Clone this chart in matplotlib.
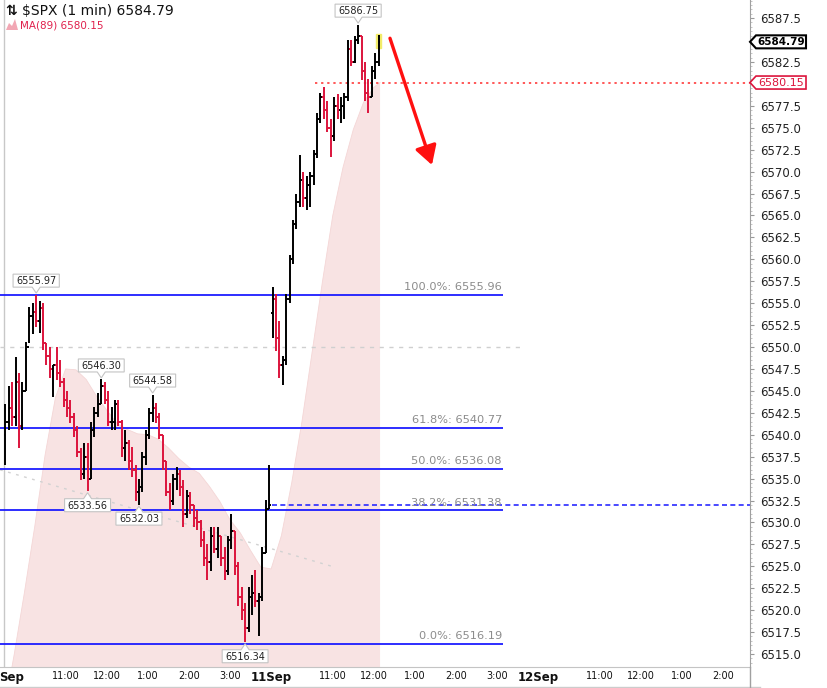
import numpy as np
import matplotlib
matplotlib.use("Agg")
import matplotlib.pyplot as plt
from matplotlib.collections import LineCollection
from matplotlib.patches import Polygon, Rectangle
from matplotlib.transforms import IdentityTransform
from matplotlib.lines import Line2D
from matplotlib.ticker import FormatStrFormatter, MultipleLocator

# ---------------- data ----------------
session_labels = ["10Sep", "11Sep", "12Sep"]
time_labels = ["11:00", "12:00", "1:00", "2:00", "3:00"]
time_offsets = [90, 150, 210, 270, 330]      # minutes after 9:30
session_length = 390
bar_minutes = 5

# 10 Sep, 5-minute bars
day1_high = [6543.5, 6545.5, 6546.0, 6548.9, 6547.0, 6546.0, 6550.6, 6554.6, 6555.0, 6555.97,
             6555.3, 6555.0, 6550.5, 6550.0, 6548.0, 6550.0, 6548.5, 6546.5, 6545.0, 6544.0,
             6542.5, 6541.0, 6538.5, 6539.0, 6539.0, 6541.5, 6543.2, 6544.8, 6546.3, 6546.0,
             6545.0, 6543.2, 6544.0, 6544.0, 6541.7, 6540.5, 6539.4, 6538.6, 6536.5, 6535.0,
             6538.0, 6540.5, 6543.0, 6544.58, 6543.6, 6542.5, 6540.0, 6537.0, 6534.5, 6535.5,
             6536.3, 6536.0, 6534.8, 6533.7, 6533.5, 6532.0, 6531.4, 6530.3, 6529.0, 6527.5,
             6529.5, 6529.5, 6529.5, 6528.5, 6527.2, 6528.5, 6531.0, 6529.0, 6525.5, 6522.6,
             6520.8, 6522.6, 6524.0, 6524.6, 6522.0, 6527.2, 6532.6, 6536.5]
day1_low = [6536.5, 6540.5, 6541.0, 6541.0, 6538.5, 6540.5, 6545.0, 6550.5, 6551.5, 6552.3,
            6551.6, 6549.7, 6548.0, 6546.5, 6544.3, 6546.2, 6545.4, 6543.2, 6542.0, 6541.3,
            6539.7, 6537.5, 6534.8, 6535.0, 6533.56, 6535.0, 6539.7, 6542.0, 6543.5, 6543.5,
            6541.0, 6540.5, 6540.5, 6541.0, 6537.5, 6537.0, 6536.0, 6535.2, 6532.5, 6532.03,
            6533.5, 6536.5, 6539.5, 6541.5, 6541.3, 6539.5, 6536.0, 6533.0, 6531.4, 6532.0,
            6533.7, 6533.0, 6529.5, 6530.5, 6531.0, 6529.5, 6529.1, 6527.2, 6525.0, 6523.4,
            6524.5, 6526.5, 6526.0, 6525.0, 6523.4, 6524.0, 6527.0, 6524.0, 6520.5, 6518.9,
            6516.34, 6517.5, 6519.5, 6520.4, 6517.0, 6521.0, 6526.5, 6531.5]
day1_close = [6541.5, 6543.0, 6542.0, 6546.0, 6541.0, 6545.0, 6550.0, 6553.5, 6554.0, 6553.0,
              6554.5, 6550.5, 6549.0, 6547.5, 6548.0, 6547.0, 6546.0, 6544.0, 6543.0, 6542.0,
              6540.5, 6538.0, 6535.5, 6537.5, 6535.0, 6540.5, 6542.5, 6543.5, 6545.5, 6544.0,
              6541.5, 6541.5, 6543.5, 6541.5, 6538.5, 6539.0, 6537.0, 6536.0, 6533.5, 6534.0,
              6537.5, 6540.0, 6542.5, 6543.0, 6542.0, 6540.0, 6537.0, 6533.5, 6532.5, 6535.0,
              6535.5, 6534.0, 6531.0, 6533.0, 6532.0, 6530.5, 6530.0, 6528.0, 6526.0, 6525.5,
              6528.5, 6527.0, 6528.5, 6526.0, 6524.5, 6528.0, 6529.0, 6525.0, 6521.5, 6520.0,
              6518.0, 6521.5, 6522.0, 6521.0, 6521.5, 6526.5, 6531.5, 6532.04]

# 11 Sep
day2_high = [6556.8, 6556.0, 6553.0, 6549.0, 6556.0, 6560.5, 6564.5, 6567.5, 6571.9, 6570.0,
             6569.5, 6570.0, 6572.5, 6576.7, 6579.0, 6579.6, 6578.0, 6576.0, 6578.5, 6578.9,
             6578.5, 6579.0, 6585.0, 6585.0, 6585.5, 6586.75, 6585.5, 6582.5, 6580.5, 6582.0,
             6583.5, 6585.6]
day2_low = [6551.0, 6549.5, 6546.5, 6545.7, 6548.0, 6555.0, 6559.5, 6563.5, 6566.0, 6566.0,
            6565.6, 6566.0, 6568.5, 6571.5, 6575.5, 6576.0, 6574.5, 6571.7, 6573.5, 6576.0,
            6575.5, 6576.0, 6578.0, 6582.0, 6582.4, 6584.5, 6580.4, 6578.0, 6576.7, 6578.5,
            6580.5, 6582.0]
day2_close = [6555.5, 6551.0, 6548.0, 6548.5, 6555.5, 6560.0, 6564.0, 6566.5, 6569.0, 6567.0,
              6568.5, 6569.5, 6572.0, 6576.0, 6578.5, 6577.0, 6575.0, 6574.0, 6577.5, 6577.0,
              6577.5, 6578.5, 6584.0, 6582.5, 6585.0, 6585.5, 6581.5, 6579.0, 6578.5, 6581.5,
              6582.5, 6584.79]

# MA(89) read every 15 minutes (minutes since 10 Sep 9:30)
ma_minute = [0, 15, 30, 45, 60, 75, 90, 105, 120, 135, 150, 165, 180, 195, 210, 225, 240,
             255, 270, 285, 300, 315, 330, 345, 360, 375, 390, 405, 420, 435, 450, 465, 480,
             495, 510, 525, 540, 549]
ma_value = [6508.5, 6515.0, 6522.1, 6529.6, 6537.7, 6544.2, 6547.5, 6547.4, 6546.3, 6544.4,
            6542.8, 6541.3, 6540.6, 6540.1, 6540.0, 6539.5, 6538.5, 6537.3, 6536.3, 6535.6,
            6534.1, 6532.4, 6530.3, 6528.8, 6526.8, 6524.9, 6524.7, 6528.5, 6534.5, 6541.5,
            6549.5, 6557.5, 6565.0, 6570.5, 6574.8, 6577.9, 6579.6, 6580.15]

fib_pct = ["100.0%", "61.8%", "50.0%", "38.2%", "0.0%"]
fib_level = [6555.96, 6540.77, 6536.08, 6531.38, 6516.19]

# labelled swing points: (session, bar index, 'H' or 'L')
swing_points = [(0, 9, "H"), (0, 28, "H"), (0, 43, "H"), (0, 24, "L"), (0, 39, "L"),
                (0, 70, "L"), (1, 25, "H")]

round_level = 6550.0
trend_x = [-5.8, 483.0]
trend_y = [6536.0, 6524.9]
arrow_from = (563.5, 6585.2)
arrow_to = (624.8, 6570.75)

# ---------------- figure ----------------
W, H = 827, 688
fig = plt.figure(figsize=(W / 100, H / 100), dpi=100)
fig.patch.set_facecolor("white")
ax = fig.add_axes([0, 21 / H, 750 / W, 667 / H])
XMIN, XMAX = -5.84, 1089.1
YMIN, YMAX = 6513.52, 6589.56
ax.set_xlim(XMIN, XMAX)
ax.set_ylim(YMIN, YMAX)
ax.set_facecolor("white")

UP = "#000000"
DOWN = "#dc143c"

# MA area
ax.fill_between(ma_minute, ma_value, YMIN - 20, color="#f8e3e3", lw=0, zorder=1)
ax.plot(ma_minute, ma_value, color="#f4d6d6", lw=0.6, zorder=1.1)

# session start divider
ax.axvline(0, color="#c8c8c8", lw=1, zorder=1.2)

# gray helper lines
ax.hlines(round_level, XMIN, 760.6, colors="#cfcfcf", linestyles=(0, (3, 4)), lw=1, zorder=1.3)
ax.plot(trend_x, trend_y, color="#d2d2d2", ls=(0, (2, 4)), lw=1, zorder=1.3)

# fibonacci levels
fib_end = 728.5
ax.hlines(fib_level, XMIN, fib_end, colors="#1c1cff", lw=1.3, zorder=2)
for pct, lvl in zip(fib_pct, fib_level):
    ax.text(fib_end - 1.5, lvl + 0.3, f"{pct}: {lvl:.2f}", ha="right", va="bottom",
            fontsize=8.2, color="#8c8c8c", zorder=2.1)

# previous close (dashed blue)
prev_close = day1_close[-1]
ax.hlines(prev_close, session_length + 1, XMAX, colors="#2a2aff",
          linestyles=(0, (3, 2)), lw=1.2, zorder=2)

# MA value line (dotted red)
last_ma = ma_value[-1]
ax.hlines(last_ma, 454, XMAX, colors="#ff2a2a", linestyles=(0, (1.5, 2.5)), lw=1.1, zorder=2)

# OHLC bars
sessions = [(day1_high, day1_low, day1_close), (day2_high, day2_low, day2_close)]
segs, cols = [], []
xs_sessions = []
tick = 2.6
for s, (hi, lo, cl) in enumerate(sessions):
    xs = s * session_length + bar_minutes * np.arange(len(cl)) + 2
    xs_sessions.append(xs)
    for i in range(len(cl)):
        o = cl[i - 1] if i > 0 else (hi[i] + lo[i]) / 2
        c = UP if cl[i] >= o else DOWN
        x = xs[i]
        segs.append([(x, lo[i]), (x, hi[i])]); cols.append(c)
        segs.append([(x - tick, o), (x, o)]); cols.append(c)
        segs.append([(x, cl[i]), (x + tick, cl[i])]); cols.append(c)

last_x = xs_sessions[-1][-1]
last_close = day2_close[-1]
ax.add_patch(Rectangle((last_x - 3.5, last_close - 0.7), 7.5, 1.6, color="#f2ec6a", zorder=3))
ax.add_collection(LineCollection(segs, colors=cols, linewidths=1.4, zorder=4, capstyle="butt"))

# red arrow
ax.annotate("", xy=arrow_to, xytext=arrow_from,
            arrowprops=dict(arrowstyle="-|>,head_length=0.95,head_width=0.55", lw=2.4,
                            color="#ff1010", shrinkA=0, shrinkB=0, mutation_scale=12),
            zorder=5)

# axes styling
for sp in ["left", "top"]:
    ax.spines[sp].set_visible(False)
ax.spines["right"].set_color("#a0a0a0")
ax.spines["bottom"].set_color("#c4c4c4")

ax.yaxis.tick_right()
yt = [t for t in np.arange(6515.0, 6587.6, 2.5)
      if abs(t - last_close) > 1.2 and abs(t - last_ma) > 1.2]
ax.set_yticks(yt)
ax.yaxis.set_major_formatter(FormatStrFormatter("%.1f"))
ax.yaxis.set_minor_locator(MultipleLocator(0.5))
ax.tick_params(axis="y", which="major", length=3, color="#999999", labelsize=8.5, pad=4,
               labelcolor="#222222")
ax.tick_params(axis="y", which="minor", length=1.5, color="#bbbbbb")

xt, xl, xb = [], [], []
for d, lab in enumerate(session_labels):
    base = d * session_length
    if base + XMIN < XMIN + 1:
        # first session label sits at the left edge; only "Sep" is visible
        xt.append(base + 10.5); xl.append(lab[2:]); xb.append(True)
    else:
        xt.append(base); xl.append(lab); xb.append(True)
    for off, t in zip(time_offsets, time_labels):
        if base + off < XMAX - 5:
            xt.append(base + off); xl.append(t); xb.append(False)
ax.set_xticks(xt)
ax.set_xticklabels(xl)
for lbl, b in zip(ax.get_xticklabels(), xb):
    lbl.set_fontweight("bold" if b else "normal")
    lbl.set_fontsize(8.5 if b else 7)
ax.tick_params(axis="x", length=0, pad=3, labelcolor="#111111")

# ---------------- overlays in pixel space ----------------
renderer = fig.canvas.get_renderer()


def callout(xm, price, above):
    txt = f"{price:.2f}"
    tx, ty = ax.transData.transform((xm, price))
    t = fig.text(0, 0, txt, fontsize=7)
    w = t.get_window_extent(renderer).width + 6
    t.remove()
    h = 13
    if above:
        tip = ty + 1.5
        y0 = tip + 6
        y1 = y0 + h
    else:
        tip = ty - 1.5
        y0 = tip - 6
        y1 = y0 - h
    pts = [(tx, tip), (tx + 4, y0), (tx + w / 2, y0), (tx + w / 2, y1),
           (tx - w / 2, y1), (tx - w / 2, y0), (tx - 4, y0)]
    fig.add_artist(Polygon(pts, closed=True, transform=IdentityTransform(), fc="white",
                           ec="#c4c4c4", lw=0.8, zorder=6))
    fig.text(tx / W, ((y0 + y1) / 2 - 0.5) / H, txt, fontsize=7, ha="center", va="center",
             color="#222222", zorder=7)


for s, i, kind in swing_points:
    hi, lo, cl = sessions[s]
    x = xs_sessions[s][i]
    if kind == "H":
        callout(x, hi[i], True)
    else:
        callout(x, lo[i], False)


def tag(price, ec, tc, weight, lw, size):
    yd = ax.transData.transform((0, price))[1]
    xr = 750.0
    pts = [(xr, yd), (xr + 6, yd + 6.5), (xr + 56, yd + 6.5), (xr + 56, yd - 6.5),
           (xr + 6, yd - 6.5)]
    fig.add_artist(Polygon(pts, closed=True, transform=IdentityTransform(), fc="white",
                           ec=ec, lw=lw, zorder=6))
    fig.text((xr + 31) / W, (yd - 0.5) / H, f"{price:.2f}", fontsize=size, fontweight=weight,
             color=tc, ha="center", va="center", zorder=7)


tag(last_close, "#000000", "#000000", "bold", 1.5, 7.5)
tag(last_ma, "#dc143c", "#dc143c", "normal", 1.2, 8)

# header
fig.text(5 / W, 1 - 11 / H, "⇅", fontsize=10, fontweight="bold", va="center", color="#111111")
fig.text(22 / W, 1 - 11 / H, rf"\$SPX (1 min) {last_close:.2f}", fontsize=10, va="center",
         color="#111111")
icon = [(6, 30), (9, 23), (12, 26), (15, 19), (18, 30)]
fig.add_artist(Polygon([(x, H - y) for x, y in icon], closed=True,
                       transform=IdentityTransform(), fc="#f2a7b4", ec="none"))
fig.text(20 / W, 1 - 25 / H, f"MA(89) {last_ma:.2f}", fontsize=7.5, va="center",
         color="#e0204c")

# frame bits below the plot
fig.add_artist(Line2D([0, 760], [1, 1], transform=IdentityTransform(), color="#cccccc", lw=1))
fig.add_artist(Line2D([750, 750], [0, 21], transform=IdentityTransform(), color="#a0a0a0", lw=1))

fig.savefig("out.png", dpi=100, facecolor="white")
